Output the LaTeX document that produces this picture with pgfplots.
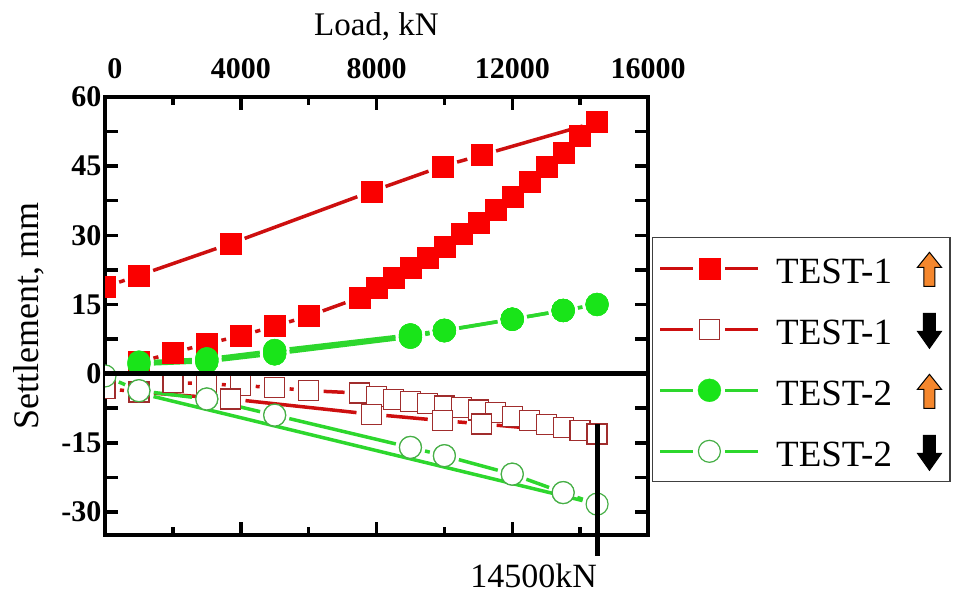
\documentclass[border=0pt]{standalone}
\usepackage{pgfplots}
\pgfplotsset{compat=1.18}
\usepackage{pgfplotstable}
\usepackage{fontspec}
\setmainfont{Liberation Serif}

\definecolor{rfill}{RGB}{250,0,0}
\definecolor{rline}{RGB}{205,15,15}
\definecolor{ropen}{RGB}{160,45,45}
\definecolor{gfill}{RGB}{25,228,25}
\definecolor{gline}{RGB}{45,215,45}
\definecolor{gopen}{RGB}{70,175,70}
\definecolor{arrorange}{RGB}{245,135,45}

% TEST-1 upward, loading
\pgfplotstableread{
x y xb yb
1000 2.5 2000 4.5
2000 4.5 3000 6.5
3000 6.5 4000 8.2
4000 8.2 5000 10.3
5000 10.3 6000 12.5
6000 12.5 7500 16.5
7500 16.5 8000 18.6
8000 18.6 8500 20.9
8500 20.9 9000 23.0
9000 23.0 9500 25.2
9500 25.2 10000 27.6
10000 27.6 10500 30.3
10500 30.3 11000 32.8
11000 32.8 11500 35.5
11500 35.5 12000 38.4
12000 38.4 12500 41.6
12500 41.6 13000 44.9
13000 44.9 13500 48.0
13500 48.0 14000 51.7
14000 51.7 14500 54.6
}\TaL
% TEST-1 upward, unloading
\pgfplotstableread{
x y xb yb
14500 54.6 11100 47.4
11100 47.4 9950 45.0
9950 45.0 7850 39.5
7850 39.5 3700 28.2
3700 28.2 1000 21.3
1000 21.3 0 18.8
}\TaU
% TEST-1 downward, loading
\pgfplotstableread{
x y xb yb
2000 -1.9 3000 -2.2
3000 -2.2 4000 -2.6
4000 -2.6 5000 -3.0
5000 -3.0 6000 -3.7
6000 -3.7 7500 -4.2
7500 -4.2 8000 -5.0
8000 -5.0 8500 -5.6
8500 -5.6 9000 -6.1
9000 -6.1 9500 -6.5
9500 -6.5 10000 -7.0
10000 -7.0 10500 -7.4
10500 -7.4 11000 -7.9
11000 -7.9 11500 -8.5
11500 -8.5 12000 -9.3
12000 -9.3 12500 -10.2
12500 -10.2 13000 -11.0
13000 -11.0 13500 -11.7
13500 -11.7 14000 -12.4
14000 -12.4 14500 -13.1
}\TbL
% TEST-1 downward, unloading
\pgfplotstableread{
x y xb yb
14500 -13.1 11100 -10.9
11100 -10.9 9950 -10.2
9950 -10.2 7850 -8.8
7850 -8.8 3700 -5.5
3700 -5.5 1000 -4.0
1000 -4.0 0 -3.2
}\TbU
% TEST-2 upward, loading
\pgfplotstableread{
x y xb yb
1000 2.5 3000 3.2
3000 3.2 5000 5.0
5000 5.0 9000 8.4
9000 8.4 10000 9.4
10000 9.4 12000 11.8
12000 11.8 13500 13.7
13500 13.7 14500 15.0
}\TcL
% TEST-2 upward, unloading
\pgfplotstableread{
x y xb yb
14500 15.0 13500 13.7
13500 13.7 12000 11.8
12000 11.8 10000 9.3
10000 9.3 9000 7.9
9000 7.9 5000 4.3
5000 4.3 3000 2.6
3000 2.6 1000 2.0
}\TcU
% TEST-2 downward, loading
\pgfplotstableread{
x y xb yb
0 -0.5 1000 -3.7
1000 -3.7 3000 -5.5
3000 -5.5 5000 -9.0
5000 -9.0 9000 -16.0
9000 -16.0 10000 -17.8
10000 -17.8 12000 -21.8
12000 -21.8 13500 -25.8
13500 -25.8 14500 -28.3
}\TdL
% TEST-2 downward, unloading
\pgfplotstableread{
x y xb yb
14500 -28.3 1000 -4.2
}\TdU

\newcommand{\segs}[2]{\addplot[#1, line width=3.5pt, forget plot,
  quiver={u=\thisrow{xb}-\thisrow{x}, v=\thisrow{yb}-\thisrow{y},
  every arrow/.append style={shorten <=15pt, shorten >=15pt}}]
  table[x=x,y=y] {#2};}
\newcommand{\pts}[2]{\addplot[only marks, forget plot, #1] table[x=x,y=y] {#2};
  \addplot[only marks, forget plot, #1] table[x=xb,y=yb] {#2};}

\pgfplotsset{
  rfilled/.style={mark=square*, mark size=10.5pt, mark options={solid, fill=rfill, draw=rfill, line width=0.3pt}},
  ropened/.style={mark=square*, mark size=10pt, mark options={solid, fill=white, draw=ropen, line width=1.3pt}},
  gfilled/.style={mark=*, mark size=11.5pt, mark options={solid, fill=gfill, draw=gfill, line width=0.3pt}},
  gopened/.style={mark=*, mark size=11pt, mark options={solid, fill=white, draw=gopen, line width=1.2pt}},
}

\newcommand{\uparr}{\tikz[baseline=0pt]{\filldraw[fill=arrorange, draw=black, line width=1pt]
  (-5.5pt,-3pt) -- (5.5pt,-3pt) -- (5.5pt,16pt) -- (12pt,16pt) -- (0pt,31pt) -- (-12pt,16pt) -- (-5.5pt,16pt) -- cycle;}}
\newcommand{\dnarr}{\tikz[baseline=0pt]{\filldraw[fill=black, draw=black, line width=1pt]
  (-6pt,31pt) -- (6pt,31pt) -- (6pt,13pt) -- (12pt,13pt) -- (0pt,-4pt) -- (-12pt,13pt) -- (-6pt,13pt) -- cycle;}}

\begin{document}
\begin{tikzpicture}
\useasboundingbox (0pt,0pt) rectangle (964pt,-594pt);
\begin{axis}[
  at={(105pt,-535pt)}, anchor=south west,
  scale only axis, width=543pt, height=438pt,
  xmin=0, xmax=16000, ymin=-35, ymax=60,
  scaled x ticks=false, scaled y ticks=false,
  xtick={0,4000,8000,12000,16000},
  xticklabels={\hspace{20pt}0,4000,8000,12000,16000},
  minor x tick num=1,
  ytick={-30,-22.5,...,60},
  yticklabels={-30,,-15,,0,,15,,30,,45,,60},
  xticklabel pos=upper,
  tick align=inside,
  major tick length=13pt, minor tick length=8pt,
  tick style={black, line width=3.5pt},
  axis line style={line width=4.5pt},
  ticklabel style={font=\bfseries\fontsize{30}{32}\selectfont},
  xticklabel style={yshift=15pt},
  xlabel={Load, kN}, ylabel={Settlement, mm},
  xlabel style={font=\fontsize{33}{36}\selectfont, yshift=11pt},
  ylabel style={font=\fontsize{36}{38}\selectfont, yshift=11pt},
  clip marker paths=true,
  legend cell align=left,
  legend style={at={(axis description cs:1.0074,0.680)}, anchor=north west,
    draw=black!75, line width=1.3pt, fill=white,
    font=\fontsize{37}{39}\selectfont, row sep=24pt,
    inner xsep=6pt, inner ysep=12pt,
    /tikz/every odd column/.append style={column sep=14pt}},
  legend image code/.code={%
    \draw[#1, mark=none] (0pt,0pt) -- (33pt,0pt);
    \draw[#1, mark=none] (65pt,0pt) -- (98pt,0pt);
    \draw[#1] plot coordinates {(49pt,0pt)};
  },
]
\addlegendimage{rline, line width=3.5pt, rfilled}
\addlegendentry{TEST-1\hspace{25pt}\uparr\hspace{12pt}}
\addlegendimage{rline, line width=3.5pt, ropened}
\addlegendentry{TEST-1\hspace{25pt}\dnarr\hspace{12pt}}
\addlegendimage{gline, line width=3.5pt, gfilled}
\addlegendentry{TEST-2\hspace{25pt}\uparr\hspace{12pt}}
\addlegendimage{gline, line width=3.5pt, gopened}
\addlegendentry{TEST-2\hspace{25pt}\dnarr\hspace{12pt}}

% lines
\segs{rline}{\TaL}
\segs{rline}{\TaU}
\segs{rline}{\TbL}
\segs{rline}{\TbU}
\segs{gline}{\TcL}
\segs{gline}{\TcU}
\segs{gline}{\TdL}
\segs{gline}{\TdU}
% markers
\pts{ropened}{\TbL}
\pts{ropened}{\TbU}
\pts{rfilled}{\TaL}
\pts{rfilled}{\TaU}
\pts{gopened}{\TdL}
\pts{gfilled}{\TcU}
\pts{gfilled}{\TcL}
% zero line
\addplot[black, line width=5.5pt, forget plot] coordinates {(0,0) (16000,0)};
\end{axis}
\begin{axis}[
  at={(105pt,-535pt)}, anchor=south west,
  scale only axis, width=543pt, height=438pt,
  xmin=0, xmax=16000, ymin=-35, ymax=60,
  hide axis, clip=false,
]
\addplot[black, line width=5pt] coordinates {(14500,-11) (14500,-39.5)};
\node[anchor=base east, inner sep=0pt, font=\fontsize{34}{36}\selectfont] at (axis cs:14500,-46.3) {14500kN};
\end{axis}
\end{tikzpicture}
\end{document}
